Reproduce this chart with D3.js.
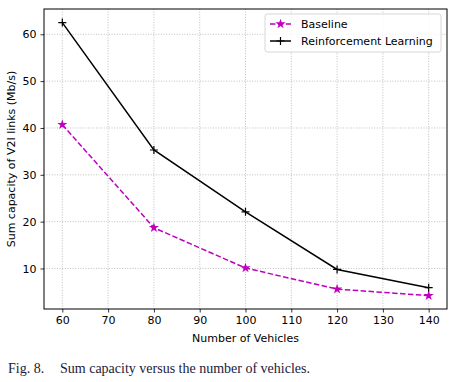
<!DOCTYPE html>
<html><head><meta charset="utf-8">
<script src="https://cdn.jsdelivr.net/npm/d3@7"></script>
<style>body{margin:0;background:#fff}svg{display:block}</style>
</head><body>
<svg id="c" width="458" height="382"></svg>
<script>
const vehicles = [60, 80, 100, 120, 140];
const baseline = [40.7, 18.7, 10.1, 5.6, 4.2];
const rl = [62.5, 35.3, 22.1, 9.8, 5.9];
const xTicks = [60, 70, 80, 90, 100, 110, 120, 130, 140];
const yTicks = [10, 20, 30, 40, 50, 60];
const seriesNames = ["Baseline", "Reinforcement Learning"];

const svg = d3.select("#c");
const L = 44, R = 447, T = 9, B = 309;
const x = d3.scaleLinear().domain([56, 144]).range([L, R]);
const y = d3.scaleLinear().domain([1.35, 65.4]).range([B, T]);
const font = "DejaVu Sans, sans-serif";
const fs = 11;

// grid
const g = svg.append("g");
g.selectAll(".gx").data(xTicks).enter().append("line")
  .attr("x1", d => x(d)).attr("x2", d => x(d)).attr("y1", T).attr("y2", B)
  .attr("stroke", "#b0b0b0").attr("stroke-width", 0.8).attr("stroke-dasharray", "1,1.6");
g.selectAll(".gy").data(yTicks).enter().append("line")
  .attr("y1", d => y(d)).attr("y2", d => y(d)).attr("x1", L).attr("x2", R)
  .attr("stroke", "#b0b0b0").attr("stroke-width", 0.8).attr("stroke-dasharray", "1,1.6");

// axes
const xa = svg.append("g").attr("transform", `translate(0,${B})`)
  .call(d3.axisBottom(x).tickValues(xTicks).tickSize(3.5).tickPadding(4).tickFormat(d3.format("d")));
const ya = svg.append("g").attr("transform", `translate(${L},0)`)
  .call(d3.axisLeft(y).tickValues(yTicks).tickSize(3.5).tickPadding(4).tickFormat(d3.format("d")));
[xa, ya].forEach(a => {
  a.select(".domain").remove();
  a.selectAll("text").attr("font-family", font).attr("font-size", fs).attr("fill", "#000");
  a.selectAll("line").attr("stroke", "#000").attr("stroke-width", 0.8);
});

// frame
svg.append("rect").attr("x", L).attr("y", T).attr("width", R - L).attr("height", B - T)
  .attr("fill", "none").attr("stroke", "#000").attr("stroke-width", 1);

const line = d3.line().x((d, i) => x(vehicles[i])).y(d => y(d));
const star = d3.symbol().type(d3.symbolStar).size(32);
const plusPath = "M-4,0H4M0,-4V4";

// baseline
svg.append("path").datum(baseline).attr("d", line).attr("fill", "none")
  .attr("stroke", "#bf00bf").attr("stroke-width", 1.5).attr("stroke-dasharray", "5.5,2.4");
svg.selectAll(".bs").data(baseline).enter().append("path")
  .attr("d", star).attr("transform", (d, i) => `translate(${x(vehicles[i])},${y(d)})`)
  .attr("fill", "#bf00bf");

// RL
svg.append("path").datum(rl).attr("d", line).attr("fill", "none")
  .attr("stroke", "#000").attr("stroke-width", 1.5);
svg.selectAll(".rp").data(rl).enter().append("path")
  .attr("d", plusPath)
  .attr("transform", (d, i) => `translate(${x(vehicles[i])},${y(d)})`)
  .attr("stroke", "#000").attr("stroke-width", 1.2);

// legend
const lg = svg.append("g");
lg.append("rect").attr("x", 265).attr("y", 14).attr("width", 176).attr("height", 38).attr("rx", 2.5)
  .attr("fill", "#fff").attr("fill-opacity", 0.8).attr("stroke", "#ccc").attr("stroke-width", 0.8);
lg.append("line").attr("x1", 270).attr("x2", 291).attr("y1", 24).attr("y2", 24)
  .attr("stroke", "#bf00bf").attr("stroke-width", 1.5).attr("stroke-dasharray", "5.5,2.4");
lg.append("path").attr("d", star).attr("transform", "translate(280.5,24)").attr("fill", "#bf00bf");
lg.append("line").attr("x1", 270).attr("x2", 291).attr("y1", 41).attr("y2", 41)
  .attr("stroke", "#000").attr("stroke-width", 1.5);
lg.append("path").attr("d", plusPath).attr("transform", "translate(280.5,41)")
  .attr("stroke", "#000").attr("stroke-width", 1.2);
lg.selectAll("text").data(seriesNames).enter().append("text")
  .attr("x", 301).attr("y", (d, i) => 24 + i * 17).attr("dy", "0.35em")
  .attr("font-family", font).attr("font-size", fs).text(d => d);

// axis labels
svg.append("text").attr("x", (L + R) / 2).attr("y", 342).attr("text-anchor", "middle")
  .attr("font-family", font).attr("font-size", fs).text("Number of Vehicles");
svg.append("text").attr("transform", `translate(15,${(T + B) / 2}) rotate(-90)`).attr("text-anchor", "middle")
  .attr("font-family", font).attr("font-size", fs).text("Sum capacity of V2I links (Mb/s)");

// caption
svg.append("text").attr("x", 8).attr("y", 373).attr("font-family", "Liberation Serif, serif")
  .attr("font-size", 14).attr("fill", "#1a1a3a").text("Fig. 8.");
svg.append("text").attr("x", 60).attr("y", 373).attr("font-family", "Liberation Serif, serif")
  .attr("font-size", 14).attr("fill", "#1a1a3a").text("Sum capacity versus the number of vehicles.");
</script>
</body></html>
